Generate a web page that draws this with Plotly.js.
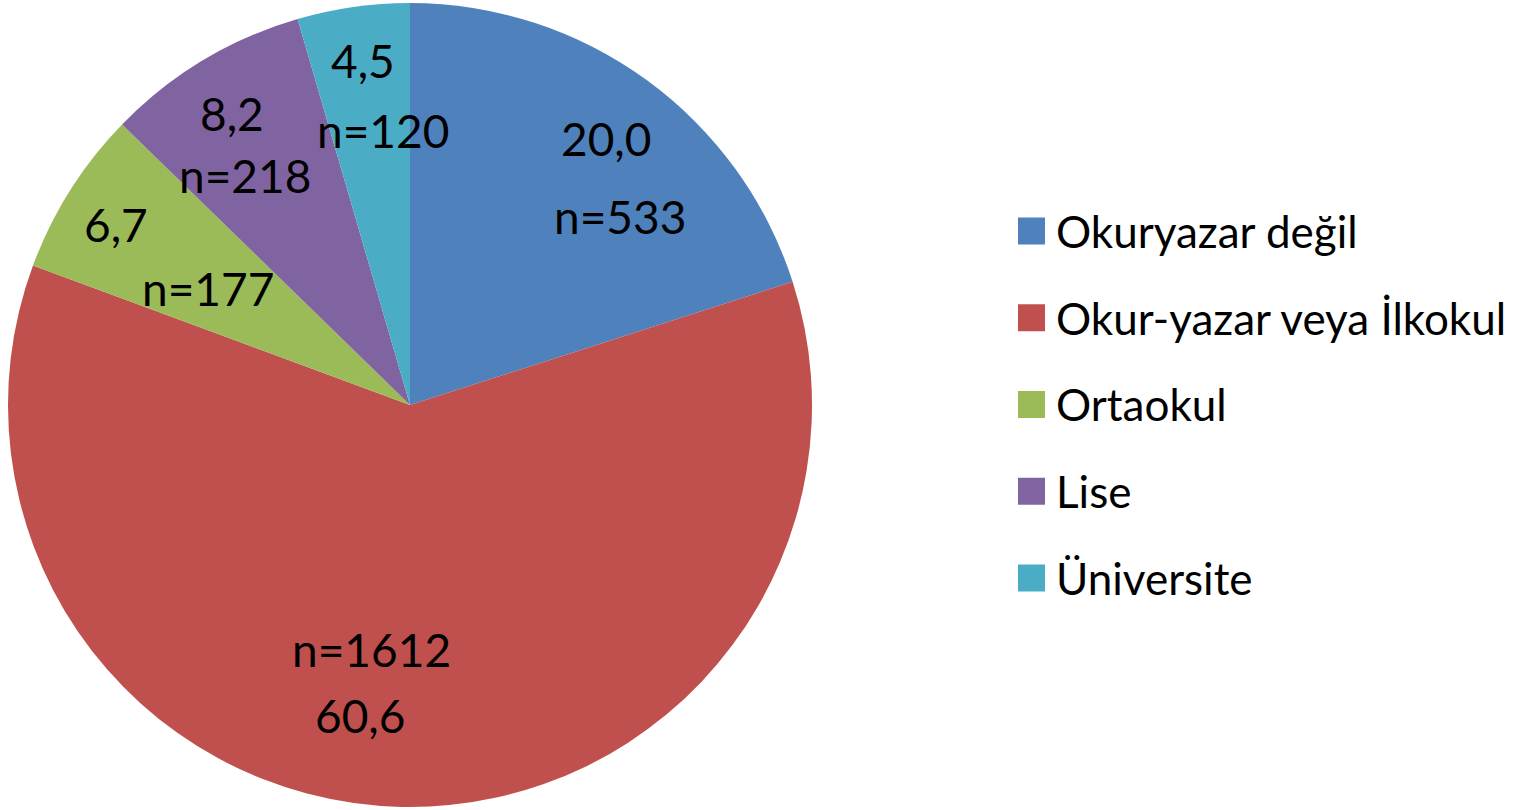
<!DOCTYPE html>
<html>
<head>
<meta charset="utf-8">
<script src="https://cdn.plot.ly/plotly-3.0.1.min.js"></script>
<style>html,body{margin:0;padding:0;background:#fff;}#chart{width:1537px;height:810px;}</style>
</head>
<body>
<div id="chart"></div>
<script>
// ---- data ----
const categories = ['Okuryazar değil', 'Okur-yazar veya İlkokul', 'Ortaokul', 'Lise', 'Üniversite'];
const counts = [533, 1612, 177, 218, 120];
const percentLabels = ['20,0', '60,6', '6,7', '8,2', '4,5'];
const colors = ['#4F81BD', '#C0504D', '#9BBB59', '#8064A2', '#4BACC6'];

// ---- style ----
const W = 1537, H = 810;
const FONT = 'Lato, "Open Sans", sans-serif';
const pieDomain = {x: [8 / W, 812 / W], y: [3 / H, 807 / H]};
const nOnTop = [false, true, false, false, false];
const labelRadius = 0.74;
// manual label nudges (pixels, [dx, dy] for first and second line), as in the original layout
const pctNudge = [[21, -24], [-44, 15], [-42, -20], [-25, -34], [-5, -48]];
const nNudge = [[35, 54], [-32, -51], [50, 44], [-12, 28], [15, 22]];

const cx = (pieDomain.x[0] + pieDomain.x[1]) / 2 * W;
const cy = H - (pieDomain.y[0] + pieDomain.y[1]) / 2 * H;
const R = Math.min((pieDomain.x[1] - pieDomain.x[0]) * W, (pieDomain.y[1] - pieDomain.y[0]) * H) / 2;
const total = counts.reduce((a, b) => a + b, 0);

const annotations = [];
const shapes = [];
let cum = 0;
counts.forEach((v, i) => {
  const a = 2 * Math.PI * (cum + v / 2) / total;
  cum += v;
  const px = cx + labelRadius * R * Math.sin(a);
  const py = cy - labelRadius * R * Math.cos(a);
  [[percentLabels[i], pctNudge[i]], ['n=' + v, nNudge[i]]].forEach(([t, nd]) => {
    annotations.push({
      xref: 'paper', yref: 'paper', x: px / W, y: 1 - py / H,
      xanchor: 'center', yanchor: 'middle', showarrow: false,
      xshift: nd[0], yshift: -nd[1] + 2,
      text: t, font: {family: FONT, size: 46, color: '#000'}
    });
  });
});

// legend (drawn to match the large swatches of the reference)
const legX = 1018, legSw = 27, legY0 = 231, legStep = 86.75;
categories.forEach((c, i) => {
  const yc = legY0 + i * legStep;
  shapes.push({
    type: 'rect', xref: 'paper', yref: 'paper',
    x0: legX / W, x1: (legX + legSw) / W,
    y0: 1 - (yc + legSw / 2) / H, y1: 1 - (yc - legSw / 2) / H,
    fillcolor: colors[i], line: {width: 0}
  });
  annotations.push({
    xref: 'paper', yref: 'paper', x: (legX + legSw + 9) / W, y: 1 - yc / H,
    xanchor: 'left', yanchor: 'middle', showarrow: false,
    text: c, font: {family: FONT, size: 44, color: '#000'}
  });
});

const trace = {
  type: 'pie',
  labels: categories,
  values: counts,
  sort: false,
  direction: 'clockwise',
  rotation: 0,
  textinfo: 'none',
  hoverinfo: 'label+value+percent',
  marker: {colors: colors, line: {width: 0}},
  domain: pieDomain,
  showlegend: false
};

Plotly.newPlot('chart', [trace], {
  width: W, height: H,
  margin: {l: 0, r: 0, t: 0, b: 0},
  paper_bgcolor: '#fff',
  showlegend: false,
  annotations: annotations,
  shapes: shapes,
  font: {family: FONT}
}, {displayModeBar: false, staticPlot: true});
</script>
</body>
</html>
